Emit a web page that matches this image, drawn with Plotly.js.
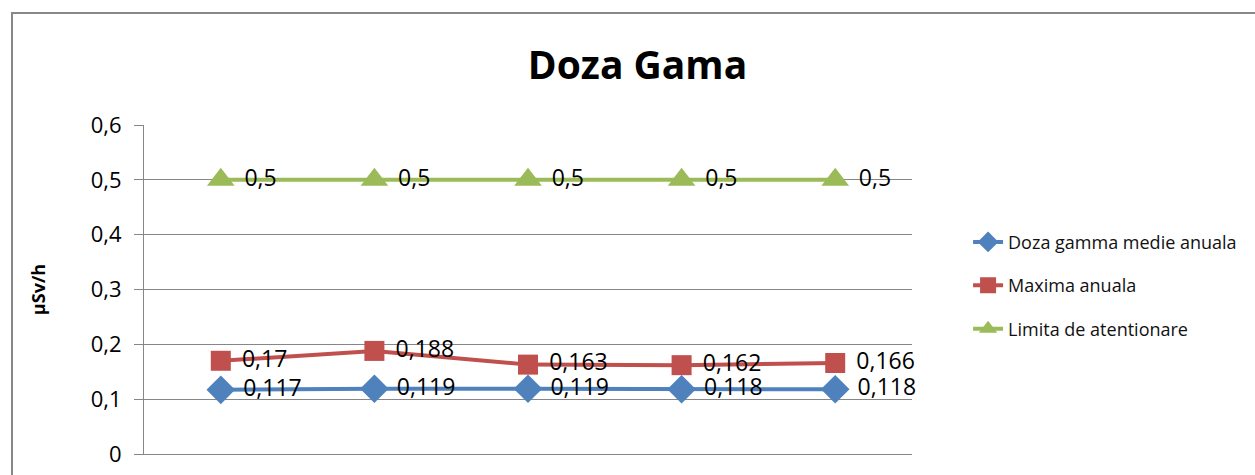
<!DOCTYPE html>
<html>
<head>
<meta charset="utf-8">
<script src="https://cdn.plot.ly/plotly-3.0.1.min.js"></script>
<style>
  html, body { margin: 0; padding: 0; background: #fff; }
  #wrap { position: relative; width: 1255px; height: 475px; overflow: hidden; }
  #frame { position: absolute; left: 11px; top: 12px; width: 1300px; height: 500px;
           border-left: 2px solid #888; border-top: 2px solid #888; box-sizing: border-box; pointer-events: none; }
  #chart { position: absolute; left: 0; top: 0; width: 1255px; height: 475px; }
</style>
</head>
<body>
<div id="wrap">
  <div id="chart"></div>
  <div id="frame"></div>
</div>
<script>
const categories = ["1", "2", "3", "4", "5"];
const dozaMedie = [0.117, 0.119, 0.119, 0.118, 0.118];
const maximaAnuala = [0.17, 0.188, 0.163, 0.162, 0.166];
const limitaAtentionare = [0.5, 0.5, 0.5, 0.5, 0.5];
const seriesNames = ["Doza gamma medie anuala", "Maxima anuala", "Limita de atentionare"];

const fmt = v => "\u2009\u2009" + String(v).replace('.', ',');
const labelFont = { family: "Open Sans, sans-serif", size: 23, color: "#000" };

function trace(name, y, color, symbol, size, group) {
  return {
    type: "scatter", mode: "lines+markers+text",
    name: name, x: categories, y: y,
    text: y.map(fmt), textposition: "middle right", textfont: labelFont,
    line: { color: color, width: 4 },
    marker: { color: color, symbol: symbol, size: size },
    legendgroup: group, cliponaxis: false
  };
}

const data = [
  trace(seriesNames[0], dozaMedie, "#4F81BD", "diamond", 22, "a"),
  trace(seriesNames[1], maximaAnuala, "#C0504D", "square", 20, "b"),
  trace(seriesNames[2], limitaAtentionare, "#9BBB59", "triangle-up", 24, "c")
];

const layout = {
  width: 1255, height: 475,
  margin: { l: 144, r: 343, t: 125, b: 21, autoexpand: false },
  paper_bgcolor: "#fff", plot_bgcolor: "#fff",
  separators: ",.",
  title: { text: "<b>Doza Gama</b>", font: { family: "Open Sans, sans-serif", size: 39, color: "#000" },
           x: 0.508, xanchor: "center", y: 0.862, yanchor: "middle" },
  showlegend: true,
  legend: { x: 1.073, y: 0.70, xanchor: "left", yanchor: "top", traceorder: "grouped", tracegroupgap: 17,
            font: { family: "Open Sans, sans-serif", size: 18, color: "#111" }, bgcolor: "rgba(0,0,0,0)" },
  xaxis: { type: "category", range: [-0.5, 4.5], showticklabels: false, showgrid: false,
           showline: true, linecolor: "#868686", linewidth: 1, zeroline: false, fixedrange: true },
  yaxis: { range: [0, 0.6], dtick: 0.1, tick0: 0, showgrid: true, gridcolor: "#868686", gridwidth: 1,
           showline: true, linecolor: "#868686", linewidth: 1, zeroline: false,
           ticks: "outside", ticklen: 9, tickcolor: "#868686", ticklabelstandoff: 8,
           tickfont: { family: "Open Sans, sans-serif", size: 22, color: "#000" },
           title: { text: "<b>µSv/h</b>", font: { family: "Open Sans, sans-serif", size: 18, color: "#000" }, standoff: 40 } }
};

Plotly.newPlot("chart", data, layout, { displayModeBar: false, staticPlot: true });
</script>
</body>
</html>
